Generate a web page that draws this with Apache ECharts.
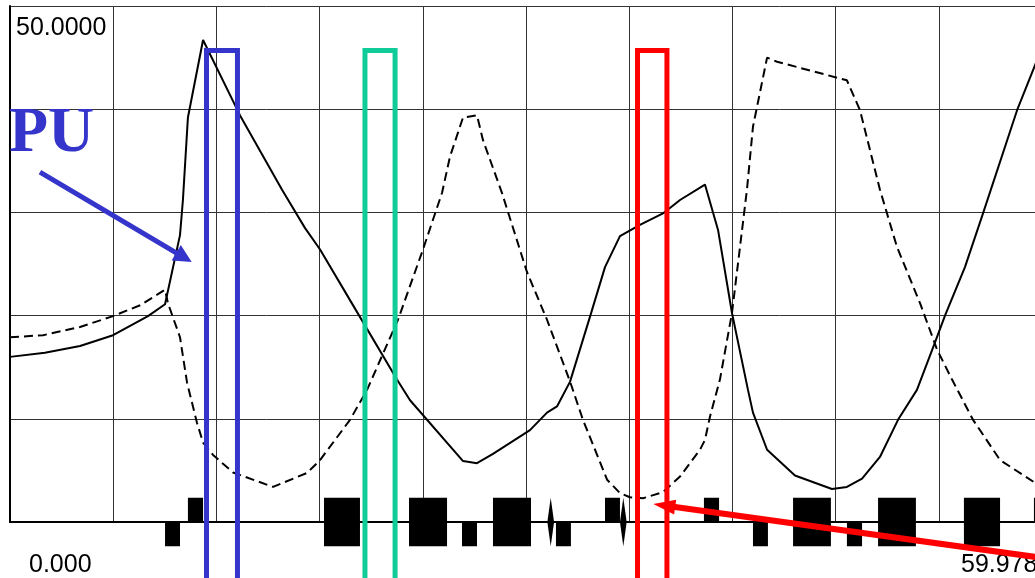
<!DOCTYPE html>
<html>
<head>
<meta charset="utf-8">
<script src="https://cdn.jsdelivr.net/npm/echarts@6/dist/echarts.min.js"></script>
<style>
  html, body { margin: 0; padding: 0; background: #fff; overflow: hidden; }
  #chart { width: 1035px; height: 578px; }
</style>
</head>
<body>
<div id="chart"></div>
<script>
// Axis extents and the end labels printed at the corners
const xMin = 0, xMax = 59.978;
const yMin = 0, yMax = 50;
const xStartLabel = '0.000';
const xEndLabel = '59.978';
const yTopLabel = '50.0000';

// Solid trace [x, y]
const solidCurve = [
  [0, 16.0], [2.03, 16.4], [4.07, 17.05], [5.99, 18.1], [8.02, 19.95], [9.01, 21.1],
  [9.88, 27.8], [10.05, 31.2], [10.34, 39.2], [11.22, 46.7], [13.37, 39.4],
  [15.81, 32.2], [17.14, 28.5], [18.02, 26.4], [19.76, 21.5], [22.49, 13.8],
  [23.25, 11.8], [26.33, 5.9], [27.14, 5.7], [28.07, 6.6], [30.22, 8.9],
  [31.21, 10.6], [31.79, 11.2], [32.55, 13.6], [33.71, 19.9], [34.58, 24.7],
  [35.45, 27.7], [36.61, 28.8], [37.95, 29.9], [38.94, 31.2], [40.39, 32.7],
  [41.15, 28.3], [41.96, 20.25], [42.89, 12.8], [43.18, 10.6], [44.0, 7.0],
  [45.62, 4.5], [47.77, 3.2], [48.64, 3.4], [49.52, 4.2], [50.56, 6.3],
  [51.61, 9.9], [52.71, 12.8], [53.76, 17.4], [54.34, 20.0], [55.5, 24.7],
  [56.55, 29.9], [58.53, 39.9], [59.51, 44.0], [59.978, 46.0]
];

// Dashed trace [x, y]
const dashedCurve = [
  [0, 17.9], [1.92, 18.1], [4.07, 18.9], [5.99, 19.95], [7.56, 21.0], [9.01, 22.5],
  [9.18, 21.2], [9.88, 17.9], [10.29, 13.5], [10.87, 9.6], [11.22, 7.7],
  [11.8, 6.5], [12.96, 4.8], [15.29, 3.4], [17.26, 4.75], [18.02, 6.0],
  [19.76, 9.9], [20.75, 12.8], [22.55, 19.6], [24.0, 26.4], [25.11, 31.9],
  [25.57, 35.4], [26.33, 39.2], [27.14, 39.4], [27.49, 37.0], [28.59, 31.9],
  [30.05, 24.2], [31.21, 19.6], [32.55, 13.6], [33.3, 9.9], [34.7, 4.1],
  [35.45, 2.8], [36.03, 2.4], [36.79, 2.3], [37.95, 2.9], [38.94, 4.4],
  [40.1, 7.0], [40.39, 7.95], [40.68, 10.2], [41.26, 13.8], [41.96, 20.25],
  [42.83, 32.2], [43.18, 38.3], [44.0, 45.0], [44.58, 44.6], [48.64, 42.8],
  [49.4, 39.9], [50.56, 32.2], [51.55, 26.65], [52.89, 21.2], [53.88, 16.7],
  [54.75, 13.8], [55.97, 9.9], [57.54, 6.0], [59.57, 3.8], [59.978, 3.4]
];

// Block track along the baseline: [start, end, low, high]
const blocks = [
  [9.01, 9.88, -2.35, 0],
  [10.34, 11.22, 0, 2.35],
  [18.25, 20.34, -2.35, 2.35],
  [23.19, 25.40, -2.35, 2.35],
  [26.27, 27.14, -2.35, 0],
  [28.07, 30.28, -2.35, 2.35],
  [31.73, 32.60, -2.35, 0],
  [34.58, 35.45, 0, 2.35],
  [40.33, 41.21, 0, 2.35],
  [43.18, 44.05, -2.35, 0],
  [45.51, 47.71, -2.35, 2.35],
  [48.64, 49.52, -2.35, 0],
  [50.45, 52.65, -2.35, 2.35],
  [55.44, 57.54, -2.35, 2.35],
  [59.51, 60.38, 0, 2.35]
];

// Narrow diamond markers on the baseline: [left, right, low, high]
const diamonds = [
  [31.23, 31.62, -2.35, 2.35],
  [35.45, 35.84, -2.35, 2.35]
];

// Highlighted windows: [left, right, top, bottom]
const windows = [
  [11.42, 13.22, 45.7, -8],
  [20.63, 22.38, 45.7, -8],
  [36.47, 38.18, 45.7, -8]
];
const windowColors = ['#3535cc', '#0fcc98', '#ff0000'];

// Pointer arrows in data coordinates: [from, to]
const puArrow = [[1.74, 33.9], [10.56, 25.2]];
const minArrow = [[63.35, -4.25], [37.39, 1.74]];

const chart = echarts.init(document.getElementById('chart'), null, { renderer: 'canvas' });

const option = {
  backgroundColor: '#ffffff',
  animation: false,
  grid: { left: 10, top: 6, width: 1032, height: 516, containLabel: false, outerBoundsMode: 'none' },
  xAxis: {
    type: 'value', min: xMin, max: xMax, interval: (xMax - xMin) / 10,
    axisLine: { show: true, onZero: false, lineStyle: { color: '#000', width: 2 } },
    axisTick: { show: false }, axisLabel: { show: false },
    splitLine: { show: true, lineStyle: { color: '#333', width: 1 } }
  },
  yAxis: {
    type: 'value', min: yMin, max: yMax, interval: 10,
    axisLine: { show: true, lineStyle: { color: '#000', width: 2 } },
    axisTick: { show: false }, axisLabel: { show: false },
    splitLine: { show: true, lineStyle: { color: '#333', width: 1 } }
  },
  series: [
    {
      type: 'line', data: solidCurve, showSymbol: false, symbol: 'none', clip: true, z: 3,
      lineStyle: { color: '#000', width: 2 }
    },
    {
      type: 'line', data: dashedCurve, showSymbol: false, symbol: 'none', clip: true, z: 3,
      lineStyle: { color: '#000', width: 2, type: [9, 5] }
    },
    {
      type: 'custom', data: blocks, z: 4, clip: false,
      encode: { x: [0, 1], y: [2, 3] },
      renderItem: function (params, api) {
        const p1 = api.coord([api.value(0), api.value(3)]);
        const p2 = api.coord([api.value(1), api.value(2)]);
        return {
          type: 'rect',
          shape: { x: p1[0], y: p1[1], width: p2[0] - p1[0], height: p2[1] - p1[1] },
          style: { fill: '#000' }
        };
      }
    },
    {
      type: 'custom', data: diamonds, z: 4, clip: false,
      encode: { x: [0, 1], y: [2, 3] },
      renderItem: function (params, api) {
        const l = api.value(0), r = api.value(1), c = (l + r) / 2;
        const pts = [
          api.coord([c, api.value(3)]),
          api.coord([r, 0]),
          api.coord([c, api.value(2)]),
          api.coord([l, 0])
        ];
        return { type: 'polygon', shape: { points: pts }, style: { fill: '#000' } };
      }
    },
    {
      type: 'custom', data: windows, z: 6, clip: false,
      encode: { x: [0, 1], y: [2, 3] },
      renderItem: function (params, api) {
        const l = api.value(0), r = api.value(1), t = api.value(2), b = api.value(3);
        const pts = [api.coord([l, b]), api.coord([l, t]), api.coord([r, t]), api.coord([r, b])];
        return {
          type: 'polyline', shape: { points: pts },
          style: { stroke: windowColors[params.dataIndex], lineWidth: 5, fill: 'none', lineJoin: 'miter' }
        };
      }
    }
  ]
};

chart.setOption(option);

// Arrow built from a shaft and a triangular head
function arrow(from, to, color, shaft, headLen, headW) {
  const p0 = chart.convertToPixel({ gridIndex: 0 }, from);
  const p1 = chart.convertToPixel({ gridIndex: 0 }, to);
  const dx = p1[0] - p0[0], dy = p1[1] - p0[1];
  const len = Math.hypot(dx, dy);
  const ux = dx / len, uy = dy / len, nx = -uy, ny = ux;
  const bx = p1[0] - ux * headLen, by = p1[1] - uy * headLen;
  return [
    {
      type: 'line', z: 100,
      shape: { x1: p0[0], y1: p0[1], x2: bx + ux * 2, y2: by + uy * 2 },
      style: { stroke: color, lineWidth: shaft }
    },
    {
      type: 'polygon', z: 100,
      shape: { points: [[p1[0], p1[1]], [bx + nx * headW / 2, by + ny * headW / 2], [bx - nx * headW / 2, by - ny * headW / 2]] },
      style: { fill: color }
    }
  ];
}

const labelFont = '25px "Liberation Sans", Arial, sans-serif';
chart.setOption({
  graphic: [
    { type: 'text', x: 16, y: 16, z: 100, style: { text: yTopLabel, font: labelFont, fill: '#000' } },
    { type: 'text', x: 29, y: 553, z: 100, style: { text: xStartLabel, font: labelFont, fill: '#000' } },
    { type: 'text', x: 961, y: 553, z: 100, style: { text: xEndLabel, font: labelFont, fill: '#000' } },
    { type: 'text', x: 9, y: 102, z: 100, style: { text: 'PU', font: 'bold 64px "Liberation Serif", "Times New Roman", serif', fill: '#3535cc' } }
  ].concat(
    arrow(puArrow[0], puArrow[1], '#3535cc', 5, 18, 18),
    arrow(minArrow[0], minArrow[1], '#ff0000', 6, 22, 15)
  )
});
</script>
</body>
</html>
